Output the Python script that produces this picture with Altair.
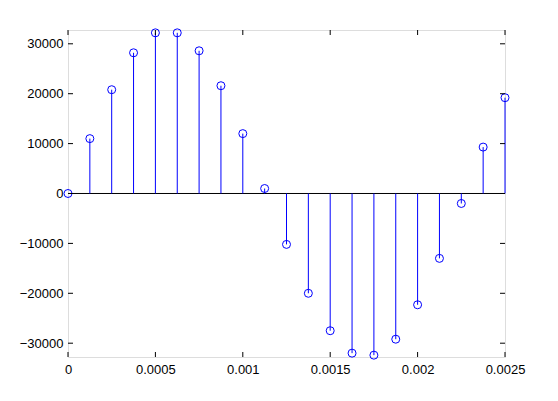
import altair as alt
import pandas as pd

t = [0, 0.000125, 0.00025, 0.000375, 0.0005, 0.000625, 0.00075, 0.000875, 0.001,
     0.001125, 0.00125, 0.001375, 0.0015, 0.001625, 0.00175, 0.001875, 0.002,
     0.002125, 0.00225, 0.002375, 0.0025]
vals = [0, 11000, 20800, 28200, 32200, 32200, 28600, 21600, 12000, 1000,
        -10200, -20000, -27500, -32000, -32400, -29200, -22300, -13000, -2000,
        9300, 19200]
x_ticks = [0, 0.0005, 0.001, 0.0015, 0.002, 0.0025]
y_ticks = [-30000, -20000, -10000, 0, 10000, 20000, 30000]

W, H = 437, 327
FONT = "Liberation Sans"

df = pd.DataFrame({"x": t, "y": vals, "y0": [0] * len(t)})
dfx = pd.DataFrame({"x": x_ticks})
dfy = pd.DataFrame({"y": y_ticks})
dfz = pd.DataFrame({"y": [0]})

xs = alt.Scale(domain=[0, 0.0025], nice=False, zero=False)
ys = alt.Scale(domain=[-32768, 32767], nice=False, zero=False)
xaxis = alt.Axis(values=x_ticks, format=".4~f", title=None, ticks=False, domain=False,
                 grid=False, labelFont=FONT, labelFontSize=13, labelColor="black",
                 labelPadding=6, labelFlush=False)
yaxis = alt.Axis(values=y_ticks, format="d", title=None, ticks=False, domain=False,
                 grid=False, labelFont=FONT, labelFontSize=13, labelColor="black",
                 labelPadding=5)

X = alt.X("x:Q", scale=xs, axis=xaxis)
Y = alt.Y("y:Q", scale=ys, axis=yaxis)

stems = alt.Chart(df).mark_rule(color="#0000ff", strokeWidth=1).encode(
    x=X, y=Y, y2="y0:Q")
baseline = alt.Chart(dfz).mark_rule(color="black", strokeWidth=1).encode(
    y=Y, x=alt.value(0), x2=alt.value(W))
pts = alt.Chart(df).mark_point(shape="circle", filled=False, color="#0000ff",
                               size=64, strokeWidth=1, opacity=1).encode(x=X, y=Y)

tb = alt.Chart(dfx).mark_rule(color="black").encode(x=X, y=alt.value(H), y2=alt.value(H - 5))
tt = alt.Chart(dfx).mark_rule(color="black").encode(x=X, y=alt.value(0), y2=alt.value(5))
tl = alt.Chart(dfy).mark_rule(color="black").encode(y=Y, x=alt.value(0), x2=alt.value(5))
tr = alt.Chart(dfy).mark_rule(color="black").encode(y=Y, x=alt.value(W), x2=alt.value(W - 5))

chart = alt.layer(baseline, stems, pts, tb, tt, tl, tr).properties(
    width=W, height=H,
    autosize=alt.AutoSizeParams(type="none"),
    padding={"left": 60, "top": 22, "right": 45, "bottom": 36},
).configure_view(stroke="black", strokeWidth=1).configure(background="white")

chart.save("out.html", embed_options={"renderer": "svg", "actions": False})
